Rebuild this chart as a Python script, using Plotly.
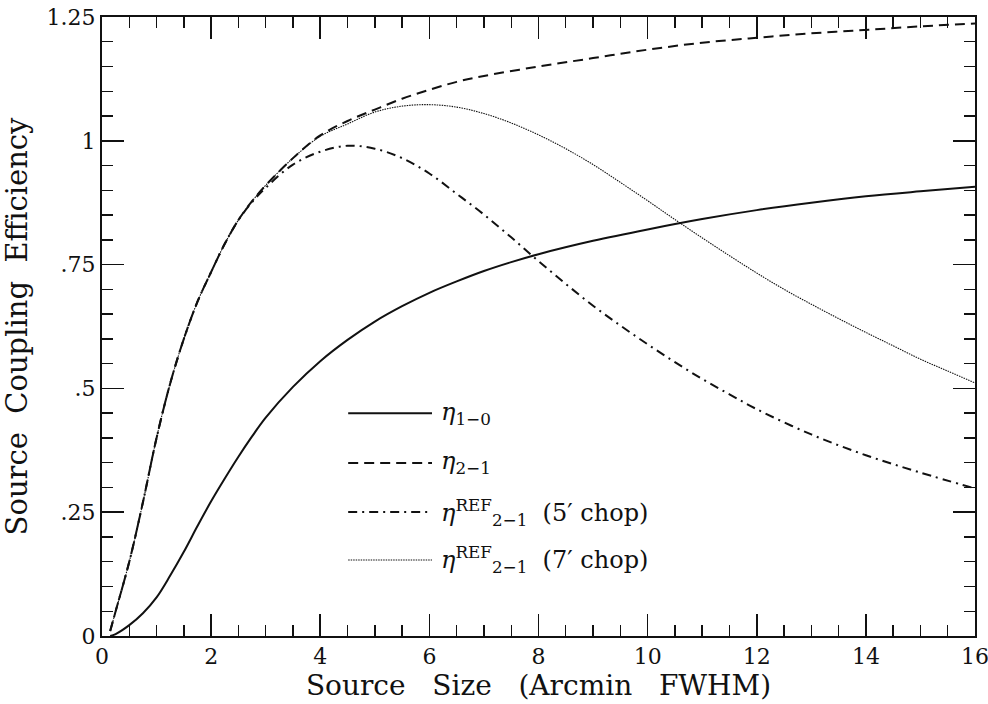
import plotly.graph_objects as go

# ---- data ----
x_eta10 = [0.15, 0.25, 0.5, 0.75, 1.0, 1.25, 1.5, 1.75, 2.0, 2.25, 2.5, 2.75, 3.0, 3.5, 4.0,
           4.5, 5.0, 5.5, 6.0, 6.5, 7.0, 7.5, 8.0, 9.0, 10.0, 11.0, 12.0, 13.0, 14.0, 15.0, 16.0]
y_eta10 = [0.0, 0.004, 0.022, 0.046, 0.078, 0.122, 0.170, 0.222, 0.272, 0.318, 0.362, 0.403,
           0.441, 0.503, 0.555, 0.598, 0.635, 0.666, 0.693, 0.716, 0.737, 0.755, 0.771, 0.798,
           0.821, 0.842, 0.860, 0.875, 0.888, 0.898, 0.907]

x_eta21 = [0.15, 0.25, 0.5, 0.75, 1.0, 1.25, 1.5, 1.75, 2.0, 2.25, 2.5, 2.75, 3.0, 3.5, 4.0,
           4.5, 5.0, 5.5, 6.0, 6.5, 7.0, 8.0, 9.0, 10.0, 11.0, 12.0, 13.0, 14.0, 15.0, 16.0]
y_eta21 = [0.01, 0.05, 0.15, 0.27, 0.40, 0.51, 0.60, 0.675, 0.735, 0.792, 0.840, 0.878, 0.910,
           0.965, 1.011, 1.040, 1.063, 1.085, 1.103, 1.119, 1.131, 1.150, 1.167, 1.184, 1.198,
           1.208, 1.217, 1.224, 1.231, 1.237]

x_ref5 = [0.15, 0.25, 0.5, 0.75, 1.0, 1.25, 1.5, 1.75, 2.0, 2.25, 2.5, 2.75, 3.0, 3.5, 4.0,
          4.5, 5.0, 5.5, 6.0, 6.5, 7.0, 7.5, 8.0, 8.5, 9.0, 9.5, 10.0, 10.5, 11.0, 11.5, 12.0,
          13.0, 14.0, 15.0, 16.0]
y_ref5 = [0.01, 0.05, 0.15, 0.27, 0.40, 0.51, 0.60, 0.675, 0.735, 0.792, 0.840, 0.876, 0.905,
          0.952, 0.978, 0.990, 0.984, 0.965, 0.934, 0.893, 0.851, 0.805, 0.757, 0.711, 0.667,
          0.627, 0.589, 0.553, 0.519, 0.488, 0.458, 0.407, 0.365, 0.330, 0.298]

x_ref7 = [0.15, 0.25, 0.5, 0.75, 1.0, 1.25, 1.5, 1.75, 2.0, 2.25, 2.5, 2.75, 3.0, 3.5, 4.0,
          4.5, 5.0, 5.5, 6.0, 6.5, 7.0, 7.5, 8.0, 8.5, 9.0, 9.5, 10.0, 10.5, 11.0, 11.5, 12.0,
          12.5, 13.0, 13.5, 14.0, 14.5, 15.0, 15.5, 16.0]
y_ref7 = [0.01, 0.05, 0.15, 0.27, 0.40, 0.51, 0.60, 0.675, 0.735, 0.792, 0.840, 0.878, 0.910,
          0.965, 1.009, 1.034, 1.058, 1.070, 1.073, 1.068, 1.055, 1.036, 1.012, 0.984, 0.952,
          0.916, 0.879, 0.841, 0.804, 0.768, 0.733, 0.700, 0.670, 0.641, 0.613, 0.586, 0.559,
          0.535, 0.511]

legend_labels = ["<i>η</i><sub>1−0</sub>",
                 "<i>η</i><sub>2−1</sub>",
                 "<i>η</i><sup>REF</sup><sub>2−1</sub>  (5′ chop)",
                 "<i>η</i><sup>REF</sup><sub>2−1</sub>  (7′ chop)"]

x_ticks = [0, 2, 4, 6, 8, 10, 12, 14, 16]
x_ticktext = ["0", "2", "4", "6", "8", "10", "12", "14", "16"]
x_minor = [i * 0.5 for i in range(33) if i % 4 != 0]
y_ticks = [0, 0.25, 0.5, 0.75, 1.0, 1.25]
y_ticktext = ["0", ".25", ".5", ".75", "1", "1.25"]
y_minor = [round(i * 0.05, 2) for i in range(26) if i % 5 != 0]

FONT = "DejaVu Serif"
INK = "#111111"

styles = [
    dict(width=2.0, dash="solid"),
    dict(width=2.0, dash="10px,6px"),
    dict(width=2.0, dash="9px,5px,2px,5px"),
    dict(width=1.1, dash="1.5px,1px"),
]

fig = go.Figure()
series = [(x_eta10, y_eta10), (x_eta21, y_eta21), (x_ref5, y_ref5), (x_ref7, y_ref7)]
for (xs, ys), st, name in zip(series, styles, legend_labels):
    fig.add_trace(go.Scatter(x=xs, y=ys, mode="lines", name=name, showlegend=False,
                             hoverinfo="skip",
                             line=dict(color=INK, width=st["width"], dash=st["dash"],
                                       shape="spline", smoothing=1.0)))

# legend drawn inside the plot
leg_rows = [0.360, 0.2795, 0.2003, 0.1228]
for row, st, label in zip(leg_rows, styles, legend_labels):
    fig.add_shape(type="line", xref="paper", yref="paper", x0=0.282, x1=0.378, y0=row, y1=row,
                  line=dict(color=INK, width=st["width"], dash=st["dash"]))
    fig.add_annotation(xref="paper", yref="paper", x=0.386, y=row, text=label, showarrow=False,
                       xanchor="left", yanchor="middle", font=dict(family=FONT, size=24, color=INK))

axis_common = dict(
    showgrid=False, zeroline=False, showline=True, linecolor=INK, linewidth=2,
    mirror="allticks", ticks="inside", ticklen=22, tickwidth=1.6, tickcolor=INK,
    tickfont=dict(family=FONT, size=22, color=INK), automargin=False,
    ticklabeloverflow="allow",
)

fig.update_xaxes(range=[0, 16], tickmode="array", tickvals=x_ticks, ticktext=x_ticktext,
                 minor=dict(tickmode="array", tickvals=x_minor, ticklen=11, tickwidth=1.4,
                            tickcolor=INK, ticks="inside"),
                 title=dict(text="Source\u00a0\u00a0 Size\u00a0\u00a0 (Arcmin\u00a0\u00a0 FWHM)",
                            standoff=0, font=dict(family=FONT, size=28, color=INK)),
                 **axis_common)
fig.update_yaxes(range=[0, 1.25], tickmode="array", tickvals=y_ticks, ticktext=y_ticktext,
                 minor=dict(tickmode="array", tickvals=y_minor, ticklen=11, tickwidth=1.4,
                            tickcolor=INK, ticks="inside"),
                 title=dict(text="Source\u00a0 Coupling\u00a0 Efficiency",
                            standoff=10, font=dict(family=FONT, size=29, color=INK)),
                 **axis_common)

fig.update_layout(
    width=988, height=704,
    margin=dict(l=102, r=13, t=17, b=68),
    paper_bgcolor="white", plot_bgcolor="white",
    showlegend=False,
)

# remove the default page-body margin so the figure fills the window exactly
fig.write_html("out.html",
               config={"displayModeBar": False, "staticPlot": True},
               post_script="document.body.style.margin='0';document.body.style.overflow='hidden';")
